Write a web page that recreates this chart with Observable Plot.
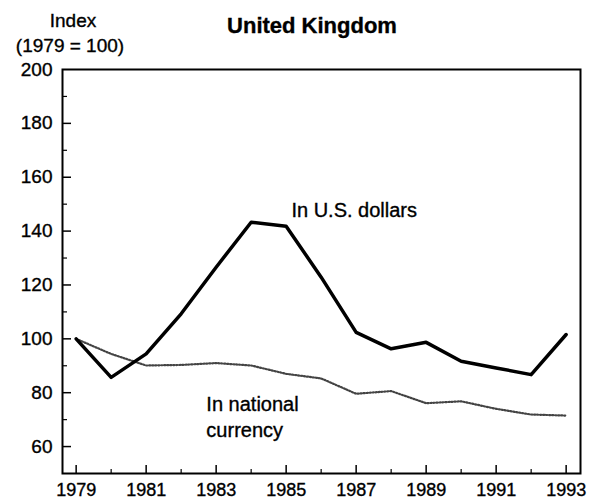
<!DOCTYPE html>
<html>
<head>
<meta charset="utf-8">
<script src="https://cdn.jsdelivr.net/npm/d3@7"></script>
<script src="https://cdn.jsdelivr.net/npm/@observablehq/plot@0.6"></script>
<style>
  body { margin: 0; background: #fff; }
  #chart { width: 600px; height: 503px; }
  #chart svg text { stroke: #000; stroke-width: 0.35px; }
</style>
</head>
<body>
<div id="chart"></div>
<script>
// ---- Data ----
const years = [1979, 1980, 1981, 1982, 1983, 1984, 1985, 1986, 1987, 1988, 1989, 1990, 1991, 1992, 1993];
const usDollars = [100, 85.7, 94.4, 109.3, 126.6, 143.3, 141.8, 122.9, 102.4, 96.3, 98.7, 91.7, 89.2, 86.7, 101.6];
const nationalCurrency = [100, 94.4, 90.1, 90.3, 91.0, 90.1, 87.0, 85.3, 79.6, 80.6, 76.1, 76.8, 74.0, 71.9, 71.5];

const xLabelYears = [1979, 1981, 1983, 1985, 1987, 1989, 1991, 1993];
const xMinorYears = [1980, 1982, 1984, 1986, 1988, 1990, 1992];
const yLabelValues = [60, 80, 100, 120, 140, 160, 180, 200];
const yMajorTicks = [60, 80, 100, 120, 140, 160, 180];
const yMinorTicks = [70, 90, 110, 130, 150, 170, 190];

const titleText = "United Kingdom";
const yTitleLines = ["Index", "(1979 = 100)"];
const seriesLabels = ["In U.S. dollars", "In national\ncurrency"];
const labelYears = [1985.15, 1982.72];
const labelValues = [145.2, 63.7];

// ---- Build tables ----
const usRows = years.map((y, i) => ({year: y, value: usDollars[i]}));
const ncRows = years.map((y, i) => ({year: y, value: nationalCurrency[i]}));
const labelRows = seriesLabels.map((t, i) => ({year: labelYears[i], value: labelValues[i], text: t}));

const W = 600, H = 503;
const mL = 62, mR = 20, mT = 69, mB = 30;
const innerW = W - mL - mR, innerH = H - mT - mB;

const font = "'Liberation Sans', Arial, Helvetica, sans-serif";

const chart = Plot.plot({
  width: W,
  height: H,
  marginLeft: mL,
  marginRight: mR,
  marginTop: mT,
  marginBottom: mB,
  style: {fontFamily: font, fontSize: "19px", color: "#000", background: "#fff"},
  x: {domain: [1978.61, 1993.41]},
  y: {domain: [50, 200]},
  marks: [
    Plot.axisX({ticks: xLabelYears, tickSize: 0, tickPadding: 10, tickFormat: d => String(d), label: null, fontSize: 18}),
    Plot.axisY({ticks: yLabelValues, tickSize: 0, tickPadding: 10, label: null, fontSize: 19}),
    // inward tick marks
    Plot.tickY(yMajorTicks, {y: d => d, insetRight: innerW - 9, stroke: "#000", strokeWidth: 1.5}),
    Plot.tickY(yMinorTicks, {y: d => d, insetRight: innerW - 5, stroke: "#000", strokeWidth: 1.2}),
    Plot.tickX(xLabelYears, {x: d => d, insetTop: innerH - 8, stroke: "#000", strokeWidth: 1.5}),
    Plot.tickX(xMinorYears, {x: d => d, insetTop: innerH - 4, stroke: "#000", strokeWidth: 1.2}),
    // series
    Plot.line(ncRows, {x: "year", y: "value", stroke: "#444", strokeWidth: 2.2, strokeDasharray: "1.2,1.8"}),
    Plot.line(usRows, {x: "year", y: "value", stroke: "#000", strokeWidth: 3.5}),
    Plot.text(labelRows, {x: "year", y: "value", text: "text", textAnchor: "start", lineAnchor: "bottom", lineHeight: 1.3, fontSize: 20, fill: "#000"}),
    Plot.frame({stroke: "#000", strokeWidth: 2})
  ]
});

const svg = d3.select(chart);
svg.append("text")
  .attr("x", 312).attr("y", 33)
  .attr("text-anchor", "middle")
  .attr("font-family", font)
  .attr("font-size", 22)
  .attr("font-weight", "bold")
  .attr("fill", "#000")
  .text(titleText);
svg.append("text")
  .attr("x", 73).attr("y", 27)
  .attr("text-anchor", "middle")
  .attr("font-family", font)
  .attr("font-size", 19)
  .attr("fill", "#000")
  .text(yTitleLines[0]);
svg.append("text")
  .attr("x", 70).attr("y", 52)
  .attr("text-anchor", "middle")
  .attr("font-family", font)
  .attr("font-size", 19)
  .attr("fill", "#000")
  .text(yTitleLines[1]);

document.getElementById("chart").appendChild(chart);
</script>
</body>
</html>
